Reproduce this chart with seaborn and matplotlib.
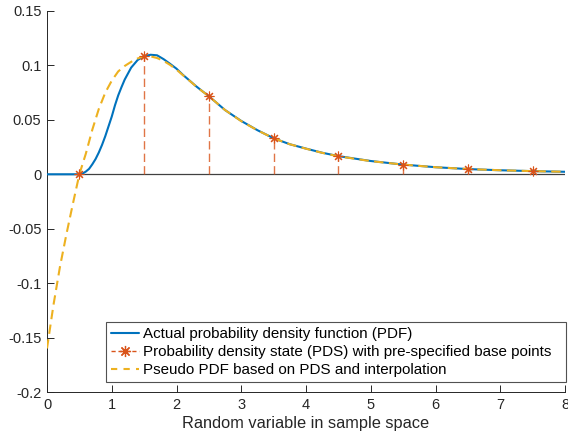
import numpy as np
import pandas as pd
import matplotlib
matplotlib.use("Agg")
import matplotlib.pyplot as plt
import seaborn as sns
from matplotlib.lines import Line2D
from matplotlib.ticker import FuncFormatter

# ---- data ----
pdf_x = [0, 0.5, 0.55, 0.6, 0.65, 0.7, 0.75, 0.8, 0.85, 0.9, 0.95, 1.0, 1.05, 1.1, 1.15,
         1.2, 1.3, 1.4, 1.5, 1.6, 1.7, 1.8, 1.9, 2.0, 2.1, 2.2, 2.3, 2.4, 2.5, 2.75,
         3.0, 3.25, 3.5, 3.75, 4.0, 4.25, 4.5, 5.0, 5.5, 6.0, 6.5, 7.0, 7.5, 8.0]
pdf_y = [0, 0, 0.0007, 0.0025, 0.005, 0.0092, 0.014, 0.020, 0.027, 0.035, 0.044, 0.053,
         0.0634, 0.0725, 0.080, 0.087, 0.098, 0.105, 0.1085, 0.1098, 0.1093, 0.1058,
         0.1015, 0.097, 0.0913, 0.0862, 0.081, 0.0763, 0.0717, 0.059, 0.049, 0.0405,
         0.0331, 0.0276, 0.0236, 0.0198, 0.0167, 0.0122, 0.0089, 0.0065, 0.0048, 0.0037,
         0.0029, 0.0023]

pds_x = [0.5, 1.5, 2.5, 3.5, 4.5, 5.5, 6.5, 7.5]
pds_y = [0.0, 0.1084, 0.0717, 0.0331, 0.0165, 0.0089, 0.0048, 0.0029]

pseudo_x = [0, 0.1, 0.2, 0.3, 0.4, 0.5, 0.6, 0.7, 0.8, 0.9, 1.0, 1.1, 1.2, 1.3, 1.4, 1.5,
            1.6, 1.7, 1.8, 1.9, 2.0, 2.1, 2.2, 2.3, 2.4, 2.5, 2.75, 3.0, 3.25, 3.5,
            3.75, 4.0, 4.25, 4.5, 5.0, 5.5, 6.0, 6.5, 7.0, 7.5, 8.0]
pseudo_y = [-0.160, -0.120, -0.085, -0.055, -0.027, 0.0, 0.019, 0.041, 0.060, 0.075,
            0.086, 0.0945, 0.0995, 0.1033, 0.1064, 0.1084, 0.1083, 0.1068, 0.1042,
            0.1005, 0.0962, 0.0910, 0.0860, 0.0809, 0.0762, 0.0717, 0.0590, 0.0488,
            0.0404, 0.0331, 0.0276, 0.0235, 0.0197, 0.0165, 0.0121, 0.0089, 0.0065,
            0.0048, 0.0037, 0.0029, 0.0023]

labels = ["Actual probability density function (PDF)",
          "Probability density state (PDS) with pre-specified base points",
          "Pseudo PDF based on PDS and interpolation"]
xlabel = "Random variable in sample space"
xticks = [0, 1, 2, 3, 4, 5, 6, 7, 8]
yticks = [-0.2, -0.15, -0.1, -0.05, 0, 0.05, 0.1, 0.15]

# ---- style ----
sns.set_style("white")
plt.rcParams['font.family'] = ['Liberation Sans', 'DejaVu Sans']
BLUE = "#0072BD"
ORANGE = "#D95319"
YELLOW = "#EDB120"
AX = "#262626"

fig = plt.figure(figsize=(5.68, 4.38), dpi=100)
ax = fig.add_axes([47/568, 1-392/438, (565-47)/568, (392-11)/438])

df_pdf = pd.DataFrame({"x": pdf_x, "y": pdf_y})
df_pseudo = pd.DataFrame({"x": pseudo_x, "y": pseudo_y})

# baseline of stem
ax.axhline(0, color="#404040", lw=0.9, zorder=1)

# stems
ax.vlines(pds_x, 0, pds_y, colors=ORANGE, linestyles=(0, (6, 3)), lw=1.0, zorder=2,
          alpha=0.8)

sns.lineplot(data=df_pdf, x="x", y="y", ax=ax, color=BLUE, lw=1.5, zorder=3,
             estimator=None, sort=False)
sns.lineplot(data=df_pseudo, x="x", y="y", ax=ax, color=YELLOW, lw=1.5, zorder=4,
             estimator=None, sort=False, dashes=False)
ax.lines[-1].set_dashes((4.5, 2.6))

ASTER = (8, 2, 0)
ax.plot(pds_x, pds_y, linestyle="none", marker=ASTER, markersize=7,
        markeredgecolor=ORANGE, markeredgewidth=0.8, zorder=5)

ax.set_xlim(0, 8)
ax.set_ylim(-0.2, 0.15)
ax.set_xticks(xticks)
ax.set_yticks(yticks)
ax.yaxis.set_major_formatter(FuncFormatter(lambda v, p: f"{v:g}"))
ax.set_xlabel(xlabel, fontsize=11.8, color=AX, labelpad=3)
ax.set_ylabel("")

for s in ["top", "right"]:
    ax.spines[s].set_visible(False)
for s in ["left", "bottom"]:
    ax.spines[s].set_color(AX)
    ax.spines[s].set_linewidth(0.7)
ax.tick_params(direction="in", length=5, width=0.7, color=AX, labelcolor=AX,
               labelsize=10.5, pad=4, left=True, bottom=True)

handles = [
    Line2D([], [], color=BLUE, lw=1.5),
    Line2D([], [], color=ORANGE, lw=1.0, linestyle=(0, (3, 2)), marker=ASTER,
           markersize=8, markeredgewidth=0.9, markeredgecolor=ORANGE),
    Line2D([], [], color=YELLOW, lw=1.5, linestyle=(0, (3, 3))),
]
leg = ax.legend(handles, labels, loc="lower left",
                bbox_to_anchor=((106-47)/518, 10/381, 460/518, 61/381),
                mode="expand", borderaxespad=0, fontsize=10.9, frameon=True,
                fancybox=False, handlelength=1.85, handletextpad=0.27,
                labelspacing=0.27, borderpad=0.32)
leg.get_frame().set_edgecolor("#262626")
leg.get_frame().set_linewidth(0.8)
for t in leg.get_texts():
    t.set_color("#000000")

fig.savefig("out.png", dpi=100)
